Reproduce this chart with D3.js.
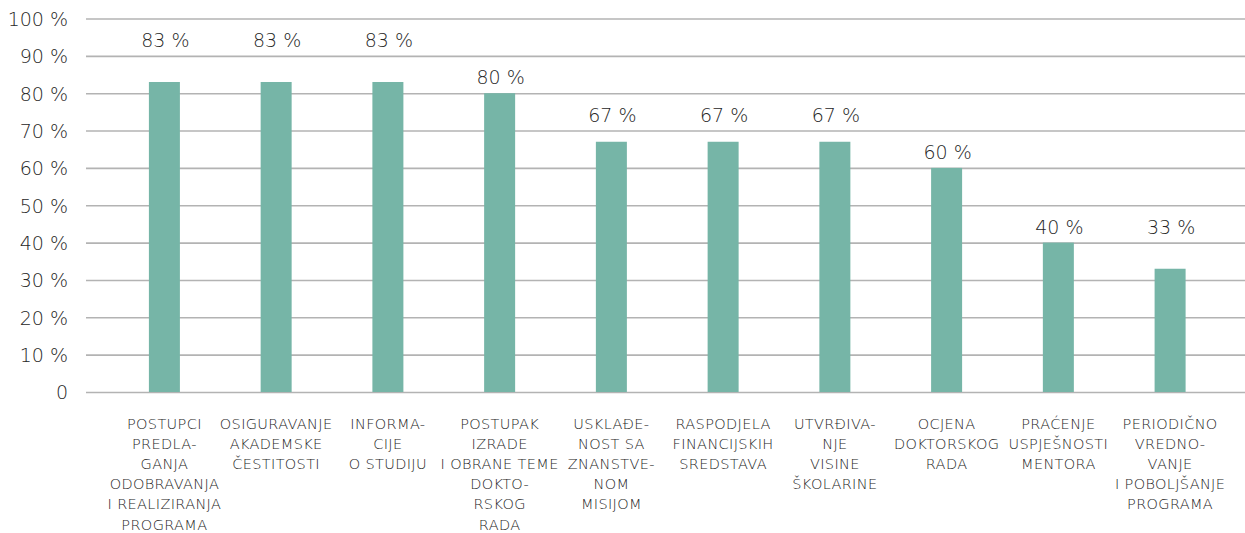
<!DOCTYPE html>
<html>
<head>
<meta charset="utf-8">
<script src="https://cdn.jsdelivr.net/npm/d3@7"></script>
<style>
  html, body { margin: 0; padding: 0; background: #fff; }
  svg { display: block; }
  text { font-family: "DejaVu Sans", sans-serif; font-weight: 300; }
</style>
</head>
<body>
<svg id="chart" width="1245" height="533"></svg>
<script>
// ---- data ----
const categories = [
  ["POSTUPCI", "PREDLA-", "GANJA", "ODOBRAVANJA", "I REALIZIRANJA", "PROGRAMA"],
  ["OSIGURAVANJE", "AKADEMSKE", "ČESTITOSTI"],
  ["INFORMA-", "CIJE", "O STUDIJU"],
  ["POSTUPAK", "IZRADE", "I OBRANE TEME", "DOKTO-", "RSKOG", "RADA"],
  ["USKLAĐE-", "NOST SA", "ZNANSTVE-", "NOM", "MISIJOM"],
  ["RASPODJELA", "FINANCIJSKIH", "SREDSTAVA"],
  ["UTVRĐIVA-", "NJE", "VISINE", "ŠKOLARINE"],
  ["OCJENA", "DOKTORSKOG", "RADA"],
  ["PRAĆENJE", "USPJEŠNOSTI", "MENTORA"],
  ["PERIODIČNO", "VREDNO-", "VANJE", "I POBOLJŠANJE", "PROGRAMA"]
];
const values = [83, 83, 83, 80, 67, 67, 67, 60, 40, 33];
const tickValues = [0, 10, 20, 30, 40, 50, 60, 70, 80, 90, 100];
const tickLabels = ["0", "10 %", "20 %", "30 %", "40 %", "50 %", "60 %", "70 %", "80 %", "90 %", "100 %"];

// ---- layout ----
const svg = d3.select("#chart");
const gridLeft = 86, gridRight = 1245;
const y = d3.scaleLinear().domain([0, 100]).range([392, 18.5]);
const x = d3.scalePoint().domain(d3.range(values.length)).range([164.4, 1170.1]);
const barW = 31;
const textColor = "#262626";

// grid lines + y tick labels via axis
const yAxis = d3.axisLeft(y)
  .tickValues(tickValues)
  .tickSize(-(gridRight - gridLeft))
  .tickPadding(18)
  .tickFormat((d, i) => tickLabels[i]);

const gAxis = svg.append("g")
  .attr("transform", `translate(${gridLeft},0)`)
  .call(yAxis);
gAxis.select(".domain").remove();
gAxis.selectAll(".tick line")
  .attr("stroke", "#b3b3b3")
  .attr("stroke-width", 1.6);
gAxis.selectAll(".tick text")
  .attr("fill", textColor)
  .attr("font-size", 19)
  .attr("dy", "0.36em")
  .style("font-family", "DejaVu Sans")
  .style("font-weight", 300);

// bars
svg.append("g").selectAll("rect")
  .data(values)
  .join("rect")
  .attr("x", (d, i) => x(i) - barW / 2)
  .attr("y", d => y(d))
  .attr("width", barW)
  .attr("height", d => y(0) - y(d))
  .attr("fill", "#76b5a7");

// value labels: centred in the grid band just above the bar top
svg.append("g").selectAll("text")
  .data(values)
  .join("text")
  .attr("x", (d, i) => x(i) + 1)
  .attr("y", d => y(Math.ceil(d / 10) * 10 + 5) + 3)
  .attr("dy", "0.36em")
  .attr("text-anchor", "middle")
  .attr("font-size", 19)
  .attr("fill", textColor)
  .text(d => d + " %");

// category labels
const catG = svg.append("g").selectAll("text")
  .data(categories)
  .join("text")
  .attr("text-anchor", "middle")
  .attr("font-size", 14.5)
  .attr("letter-spacing", 0.35)
  .attr("fill", "#262626");
catG.selectAll("tspan")
  .data((d, i) => d.map(line => ({ line, i })))
  .join("tspan")
  .attr("x", d => x(d.i))
  .attr("y", (d, j) => 428.5 + j * 20.2)
  .text(d => d.line);
</script>
</body>
</html>
